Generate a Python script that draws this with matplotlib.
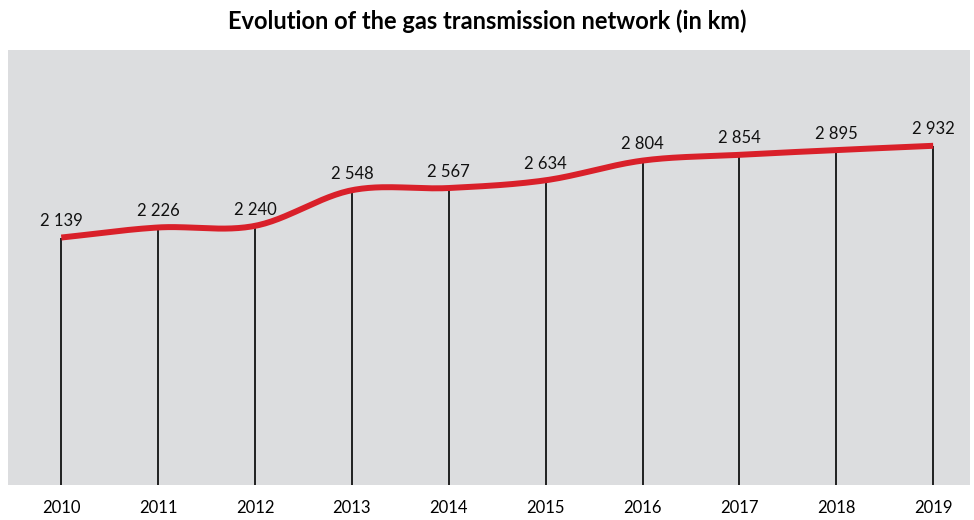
import numpy as np
from matplotlib import pyplot as plt

years = [2010, 2011, 2012, 2013, 2014, 2015, 2016, 2017, 2018, 2019]
km = [2139, 2226, 2240, 2548, 2567, 2634, 2804, 2854, 2895, 2932]
labels = ['2 139', '2 226', '2 240', '2 548', '2 567', '2 634', '2 804', '2 854', '2 895', '2 932']


def catmullRom(x, y, n=30):
    # smooth curve through the points, like the spreadsheet "smoothed line"
    x = np.asarray(x, dtype=float)
    y = np.asarray(y, dtype=float)
    px = np.concatenate(([2 * x[0] - x[1]], x, [2 * x[-1] - x[-2]]))
    py = np.concatenate(([2 * y[0] - y[1]], y, [2 * y[-1] - y[-2]]))
    xs, ys = [], []
    t = np.linspace(0, 1, n)
    for i in range(1, len(px) - 2):
        for p, out in ((px, xs), (py, ys)):
            p0, p1, p2, p3 = p[i - 1], p[i], p[i + 1], p[i + 2]
            out.append(0.5 * (2 * p1 + (-p0 + p2) * t + (2 * p0 - 5 * p1 + 4 * p2 - p3) * t ** 2
                              + (-p0 + 3 * p1 - 3 * p2 + p3) * t ** 3))
    return np.concatenate(xs), np.concatenate(ys)


plt.rcParams['font.family'] = ['Lato', 'DejaVu Sans']

fig = plt.figure(figsize=(9.74, 5.2), dpi=100)
ax = fig.add_axes([8 / 974, 1 - 485 / 520, 962 / 974, 435 / 520])
ax.set_facecolor('#dcdddf')

ax.vlines(years, 0, km, colors='black', linewidth=1.2, zorder=2)
sx, sy = catmullRom(years, km)
ax.plot(sx, sy, color='#d9202a', linewidth=4.3, solid_capstyle='butt', zorder=3)

for x, y, s in zip(years, km, labels):
    ax.annotate(s, (x, y), xytext=(0, 6), textcoords='offset points',
                ha='center', va='bottom', fontsize=12, color='#111111')

ax.set_xlim(2010 - 0.55, 2019 + 0.38)
ax.set_ylim(0, 3760)
ax.set_xticks(years)
ax.set_xticklabels([str(y) for y in years], fontsize=12)
ax.tick_params(axis='x', length=0, pad=11)
ax.set_yticks([])
for sp in ax.spines.values():
    sp.set_visible(False)

fig.text(0.5, 1 - 21 / 520, 'Evolution of the gas transmission network (in km)',
         ha='center', va='center', fontsize=17, fontweight='bold')

fig.savefig('out.png', dpi=100)
